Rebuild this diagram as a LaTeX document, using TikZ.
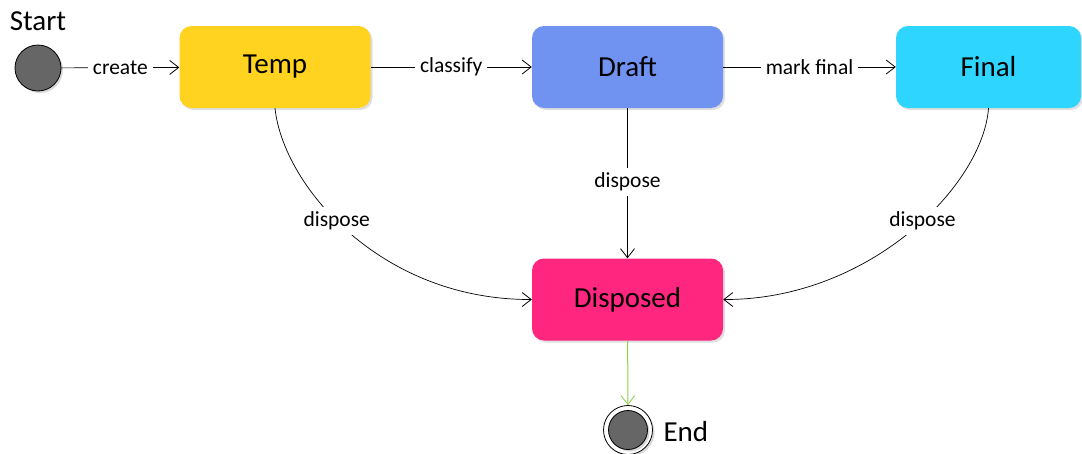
\documentclass[tikz,border=0pt]{standalone}
\usepackage{fontspec}
\setmainfont{Carlito}
\usetikzlibrary{arrows.meta,shadows}
\definecolor{tempc}{HTML}{FFD320}
\definecolor{draftc}{HTML}{7092F1}
\definecolor{finalc}{HTML}{2ED5FE}
\definecolor{dispc}{HTML}{FF2680}
\definecolor{pseudoc}{HTML}{666666}
\definecolor{endline}{HTML}{8CD04A}
\tikzset{
  state/.style={rectangle, rounded corners=12pt, minimum width=191pt, minimum height=82pt,
    inner sep=0pt, font=\fontsize{29}{32}\selectfont,
    drop shadow={opacity=0.25, shadow xshift=2pt, shadow yshift=-2pt}},
  pseudo/.style={circle, draw=black, line width=0.8pt, fill=pseudoc, minimum size=46pt, inner sep=0pt,
    drop shadow={opacity=0.3, shadow xshift=2pt, shadow yshift=-2pt}},
  flow/.style={draw=black, line width=0.7pt, -{Straight Barb[length=9pt,width=14pt,line width=0.8pt]}},
  lbl/.style={fill=white, inner sep=5pt, font=\fontsize{21.5}{24}\selectfont, text=black},
  captext/.style={font=\fontsize{29}{32}\selectfont}
}
\begin{document}
\begin{tikzpicture}[x=1pt,y=-1pt]
\useasboundingbox (0,0) rectangle (1082,453);

% states
\node[state, fill=tempc]  (temp)  at (275,67)  {Temp};
\node[state, fill=draftc] (draft) at (627.5,67) {Draft};
\node[state, fill=finalc, minimum width=185pt] (final) at (988.5,67) {Final};
\node[state, fill=dispc]  (disp)  at (627.5,299.5) {Disposed};

% initial and final pseudo-states
\node[pseudo] (start) at (38,68) {};
\node[captext] (startlbl) at (38,21) {Start};
\node[circle, draw=black, line width=0.8pt, fill=white, minimum size=49pt, inner sep=0pt,
  drop shadow={opacity=0.3, shadow xshift=2pt, shadow yshift=-2pt}] (endo) at (628,430) {};
\node[pseudo, minimum size=39pt, drop shadow={opacity=0}] (endi) at (628,430) {};
\node[captext, anchor=west] (endlbl) at (660,432) {End};

% transitions
\draw[flow] (start) -- node[lbl] {create} (temp);
\draw[flow] (temp) -- node[lbl] {classify} (draft);
\draw[flow] (draft) -- node[lbl] {mark final} (final);
\draw[flow] (draft) -- node[lbl, pos=0.49] {dispose} (disp);
\draw[flow] (temp.south) .. controls (283,185) and (380,300) .. node[lbl, pos=0.45] {dispose} (disp.west);
\draw[flow] (final.south) .. controls (983,185) and (870,300) .. node[lbl, pos=0.45] {dispose} (disp.east);
\draw[flow, draw=endline, line width=1pt] (disp) -- (endo);
\end{tikzpicture}
\end{document}
